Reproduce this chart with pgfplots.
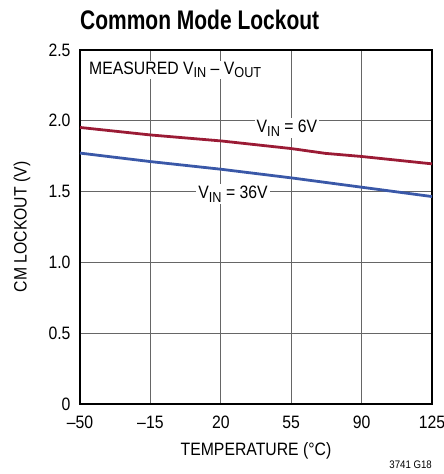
\documentclass[border=0pt]{standalone}
\usepackage{pgfplots}
\pgfplotsset{compat=1.18}
\usepackage{fontspec}
\setmainfont{Liberation Sans}[FakeStretch=0.88]
\newfontfamily\titlefont{Liberation Sans}[FakeStretch=0.78]
\definecolor{redline}{HTML}{9B1B35}
\definecolor{blueline}{HTML}{3A58A8}
\newcommand{\sub}[1]{\raisebox{-0.4ex}{\fontsize{14.5}{14.5}\selectfont #1}}
\begin{document}
\begin{tikzpicture}
\useasboundingbox (-80bp,-70bp) rectangle (364bp,404bp);
\begin{axis}[
  at={(0,0)}, anchor=south west,
  scale only axis, width=352bp, height=354bp,
  xmin=-50, xmax=125, ymin=0, ymax=2.5,
  xtick={-50,-15,20,55,90,125},
  xticklabels={–50,–15,20,55,90,125},
  ytick={0,0.5,1,1.5,2,2.5},
  yticklabels={0,0.5,1.0,1.5,2.0,2.5},
  grid=major,
  major grid style={gray!80!black, line width=0.9pt},
  major tick length=0pt,
  axis line style={black, line width=1.4pt},
  tick label style={font=\fontsize{18}{18}\selectfont},
  xticklabel style={anchor=base, yshift=-24bp},
  yticklabel style={anchor=east, xshift=-6bp},
  xlabel={TEMPERATURE (°C)},
  ylabel={CM LOCKOUT (V)},
  label style={font=\fontsize{18}{18}\selectfont},
  xlabel style={at={(axis description cs:0.5,0)}, anchor=base, yshift=-51bp},
  ylabel style={at={(axis description cs:0,0.5)}, anchor=center, yshift=58bp},
  clip=false,
]
\addplot[redline, line width=2.8pt] coordinates {
  (-50,1.953) (-15,1.900) (20,1.858) (55,1.804) (72,1.770) (90,1.748) (125,1.696)};
\addplot[blueline, line width=2.8pt] coordinates {
  (-50,1.772) (-15,1.712) (20,1.658) (55,1.597) (90,1.531) (125,1.465)};
\node[fill=white, inner sep=2bp, font=\fontsize{18}{18}\selectfont] at (axis cs:52.9,1.95) {V\sub{IN} = 6V};
\node[fill=white, inner sep=2bp, font=\fontsize{18}{18}\selectfont] at (axis cs:26.1,1.484) {V\sub{IN} = 36V};
\node[fill=white, anchor=west, inner sep=1bp, font=\fontsize{18}{18}\selectfont] at (axis cs:-46,2.36) {MEASURED V\sub{IN} – V\sub{OUT}};
\end{axis}
\node[anchor=base west, inner sep=0pt, font=\titlefont\bfseries\fontsize{27}{27}\selectfont] at (0bp,374bp) {Common Mode Lockout};
\node[anchor=base east, inner sep=0pt, font=\fontsize{11}{11}\selectfont] at (352bp,-64bp) {3741 G18};
\end{tikzpicture}
\end{document}
